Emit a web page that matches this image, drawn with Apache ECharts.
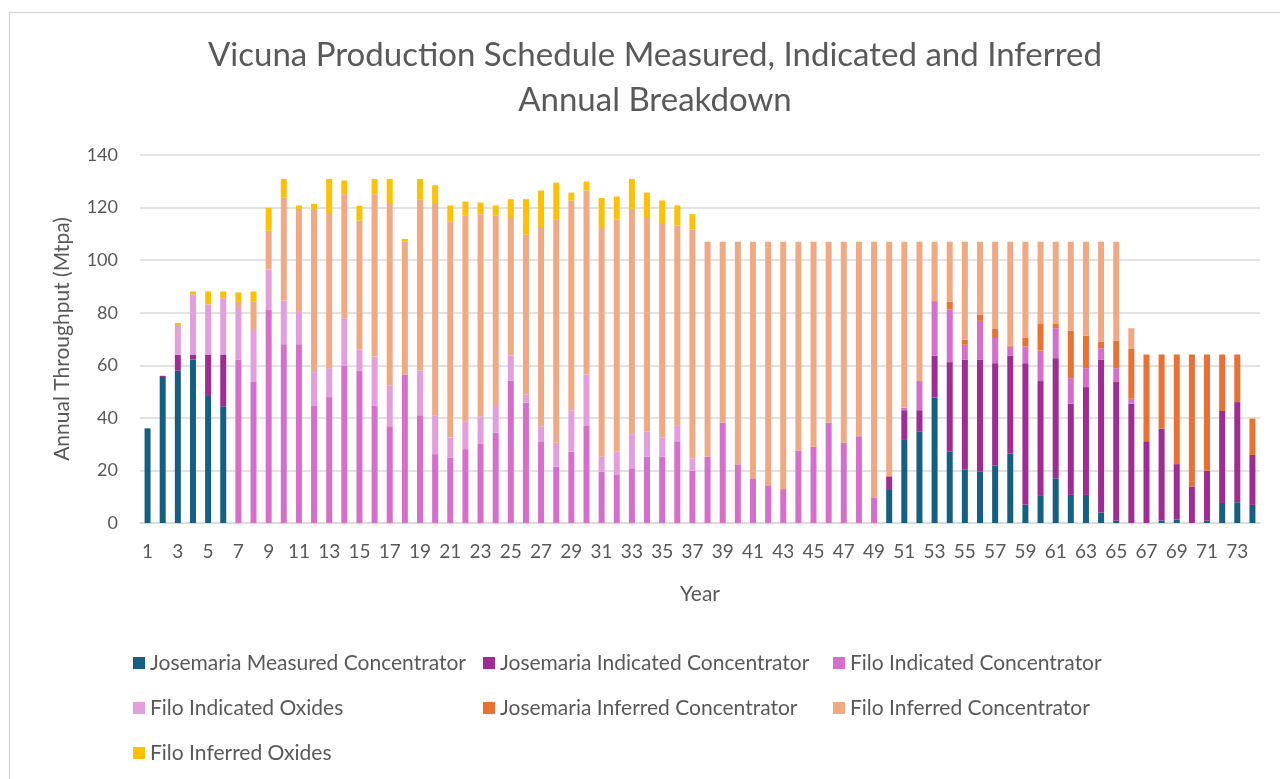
<!DOCTYPE html>
<html>
<head>
<meta charset="utf-8">
<script src="https://cdn.jsdelivr.net/npm/echarts@6/dist/echarts.min.js"></script>
<style>html,body{margin:0;padding:0;background:#fff;}#c{width:1280px;height:779px;}</style>
</head>
<body>
<div id="c"></div>
<script>
const years = Array.from({length: 74}, (_, i) => String(i + 1));

const josemariaMeasured = [36,55.5,58,62.2,48.3,44.4,0,0,0,0,0,0,0,0,0,0,0,0,0,0,0,0,0,0,0,0,0,0,0,0,0,0,0,0,0,0,0,0,0,0,0,0,0,0,0,0,0,0,0,12.9,31.9,34.7,47.7,27.1,20.4,19.5,21.8,26.4,6.9,10.3,17,10.7,10.7,4,0.9,0,0,0.9,1.3,0,0.9,7.6,7.9,6.9];
const josemariaIndicated = [0,0.5,6,1.9,15.8,19.7,0,0,0,0,0,0,0,0,0,0,0,0,0,0,0,0,0,0,0,0,0,0,0,0,0,0,0,0,0,0,0,0,0,0,0,0,0,0,0,0,0,0,0,4.8,11,8.2,16,34.1,41.8,42.7,39,37.3,53.9,43.7,45.7,34.7,41,58.2,52.7,45.4,31.1,35,21.1,13.9,19,35,38.1,19];
const filoIndicatedConc = [0,0,0,0,0,0,62.2,53.6,81,68,68,44.5,47.9,59.8,58,44.5,36.8,56.5,41,26.2,24.8,28.1,30.1,34.4,54.1,45.8,31.1,21.4,27.1,36.9,19.5,18.5,20.8,25.2,25.2,31.1,19.9,25.2,38.2,22.3,17,14.1,12.9,27.6,29,38.2,30.5,33,9.5,0,1,11.1,20.5,20.1,5.6,14.7,9.6,3.4,6.3,11.6,11.4,9.7,7.2,4.3,5.3,1.9,0,0,0,0,0,0,0,0];
const filoIndicatedOx = [0,0,11.3,22.9,19.1,21.4,20,20.2,15.5,16.7,12.3,12.9,11,18.1,8,18.8,15.4,0,17,14.8,7.7,10.6,10.5,10.1,9.6,3.1,5.7,9.1,15.8,19.6,5.7,8.6,13,9.7,7.2,6.1,4.7,0,0,0,0,0,0,0,0,0,0,0,0,0,0,0,0,0,0,0,0,0,0,0,0,0,0,0,0,0,0,0,0,0,0,0,0,0];
const josemariaInferred = [0,0,0,0,0,0,0,0,0,0,0,0,0,0,0,0,0,0,0,0,0,0,0,0,0,0,0,0,0,0,0,0,0,0,0,0,0,0,0,0,0,0,0,0,0,0,0,0,0,0.4,0,0,0.5,2.9,1.9,2.3,3.4,0.4,3.3,10.1,1.6,18,12.3,2.5,10.5,18.9,33,28.2,41.7,50.2,44.2,21.5,18.1,13.8];
const filoInferredConc = [0,0,0,0,0,0,1.9,10.4,14.7,39.1,39.2,62.1,59,47.2,49,61.8,69.5,50.7,65.2,80.7,82.3,78.3,76.9,72.5,52.7,60.8,75.8,85.1,79.8,70,87,88.5,85.7,81.5,81.7,75.9,87,81.8,68.8,84.7,90,92.9,94.1,79.4,78,68.8,76.5,74,97.5,88.9,63.1,53,22.3,22.8,37.3,27.8,33.2,39.5,36.6,31.3,31.3,33.9,35.8,38,37.6,7.9,0,0,0,0,0,0,0,0];
const filoInferredOx = [0,0,0.8,1.1,4.9,2.6,3.6,3.9,8.7,7.1,1.3,1.9,13,5.2,5.7,5.8,9.2,0.9,7.7,6.8,6,5.3,4.4,3.8,6.8,13.5,13.9,13.9,3,3.4,11.4,8.6,11.4,9.3,8.6,7.7,5.9,0,0,0,0,0,0,0,0,0,0,0,0,0,0,0,0,0,0,0,0,0,0,0,0,0,0,0,0,0,0,0,0,0,0,0,0,0];

const yTicks = {min: 0, max: 140, interval: 20};

const seriesDefs = [
  ['Josemaria Measured Concentrator', josemariaMeasured, '#156082'],
  ['Josemaria Indicated Concentrator', josemariaIndicated, '#A02B93'],
  ['Filo Indicated Concentrator', filoIndicatedConc, '#D86ECC'],
  ['Filo Indicated Oxides', filoIndicatedOx, '#E59EDD'],
  ['Josemaria Inferred Concentrator', josemariaInferred, '#E97132'],
  ['Filo Inferred Concentrator', filoInferredConc, '#F1A983'],
  ['Filo Inferred Oxides', filoInferredOx, '#FFC000']
];

const FONT = 'Lato, "Open Sans", sans-serif';
const TXT = '#595959';

const legendCommon = {
  orient: 'vertical', icon: 'rect', itemWidth: 12, itemHeight: 12, itemGap: 23,
  padding: 0, selectedMode: false,
  textStyle: {fontFamily: FONT, fontSize: 21, color: TXT, lineHeight: 22}
};

const chart = echarts.init(document.getElementById('c'), null, {renderer: 'canvas'});
chart.setOption({
  animation: false,
  backgroundColor: '#fff',
  graphic: [{
    type: 'rect', shape: {x: 9.5, y: 12.5, width: 1300, height: 800},
    style: {fill: 'none', stroke: '#d9d9d9', lineWidth: 1.5}, silent: true
  }],
  title: {
    text: 'Vicuna Production Schedule Measured, Indicated and Inferred\nAnnual Breakdown',
    left: 650, top: 28, textAlign: 'center',
    textStyle: {fontFamily: FONT, fontSize: 33, fontWeight: 'normal', color: TXT, lineHeight: 45}
  },
  legend: [
    Object.assign({left: 133, top: 652, data: ['Josemaria Measured Concentrator', 'Filo Indicated Oxides', 'Filo Inferred Oxides']}, legendCommon),
    Object.assign({left: 483, top: 652, data: ['Josemaria Indicated Concentrator', 'Josemaria Inferred Concentrator']}, legendCommon),
    Object.assign({left: 833, top: 652, data: ['Filo Indicated Concentrator', 'Filo Inferred Concentrator']}, legendCommon)
  ],
  grid: {left: 140, right: 20, top: 155, bottom: 256, containLabel: false},
  xAxis: {
    type: 'category', data: years,
    name: 'Year', nameLocation: 'middle', nameGap: 61,
    nameTextStyle: {fontFamily: FONT, fontSize: 21, color: TXT},
    axisLine: {lineStyle: {color: '#d9d9d9', width: 1.5}},
    axisTick: {show: false},
    axisLabel: {interval: 1, fontFamily: FONT, fontSize: 19, color: TXT, margin: 19}
  },
  yAxis: {
    type: 'value', min: yTicks.min, max: yTicks.max, interval: yTicks.interval,
    name: 'Annual Throughput (Mtpa)', nameLocation: 'middle', nameGap: 67,
    nameTextStyle: {fontFamily: FONT, fontSize: 21, color: TXT},
    axisLine: {show: false}, axisTick: {show: false},
    axisLabel: {fontFamily: FONT, fontSize: 18, color: TXT, margin: 22},
    splitLine: {lineStyle: {color: '#d9d9d9', width: 1.5}}
  },
  series: seriesDefs.map(([name, data, color]) => ({
    name, type: 'bar', stack: 'total', data, barWidth: 6,
    itemStyle: {color}, emphasis: {disabled: true}
  }))
});
</script>
</body>
</html>
